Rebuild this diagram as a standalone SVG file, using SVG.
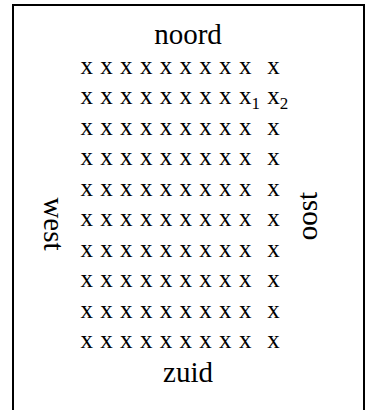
<svg xmlns="http://www.w3.org/2000/svg" width="366" height="410" viewBox="0 0 366 410">
<style>
.lbl{font-family:"Liberation Serif","Times New Roman",serif;font-size:29px;fill:#000;text-anchor:middle}
.g{font-family:"Liberation Serif","Times New Roman",serif;font-size:25px;fill:#000}
.sub{font-size:17px}
</style>
<rect width="366" height="410" fill="#fff"/>
<path d="M13,410 V5 H364 V410" fill="none" stroke="#000" stroke-width="2"/>
<g id="noord"><text class="lbl" x="188" y="44">noord</text></g>
<g id="zuid"><text class="lbl" x="188" y="382">zuid</text></g>
<g id="west"><text class="lbl" transform="translate(44,224) rotate(90)">west</text></g>
<g id="oost"><text class="lbl" transform="translate(317,216) rotate(-90)">oost</text></g>
<g id="grid" class="g">
<text x="80.5 100.3 120.1 139.9 159.7 179.5 199.3 219.1 238.9 267.2" y="74">xxxxxxxxxx</text>
<text y="104.4"><tspan x="80.5 100.3 120.1 139.9 159.7 179.5 199.3 219.1 238.9">xxxxxxxxx</tspan><tspan class="sub" dy="5">1</tspan><tspan x="267.2" dy="-5">x</tspan><tspan class="sub" dy="5">2</tspan></text>
<text x="80.5 100.3 120.1 139.9 159.7 179.5 199.3 219.1 238.9 267.2" y="134.9">xxxxxxxxxx</text>
<text x="80.5 100.3 120.1 139.9 159.7 179.5 199.3 219.1 238.9 267.2" y="165.3">xxxxxxxxxx</text>
<text x="80.5 100.3 120.1 139.9 159.7 179.5 199.3 219.1 238.9 267.2" y="195.8">xxxxxxxxxx</text>
<text x="80.5 100.3 120.1 139.9 159.7 179.5 199.3 219.1 238.9 267.2" y="226.2">xxxxxxxxxx</text>
<text x="80.5 100.3 120.1 139.9 159.7 179.5 199.3 219.1 238.9 267.2" y="256.6">xxxxxxxxxx</text>
<text x="80.5 100.3 120.1 139.9 159.7 179.5 199.3 219.1 238.9 267.2" y="287.1">xxxxxxxxxx</text>
<text x="80.5 100.3 120.1 139.9 159.7 179.5 199.3 219.1 238.9 267.2" y="317.5">xxxxxxxxxx</text>
<text x="80.5 100.3 120.1 139.9 159.7 179.5 199.3 219.1 238.9 267.2" y="348">xxxxxxxxxx</text>
</g>
</svg>
